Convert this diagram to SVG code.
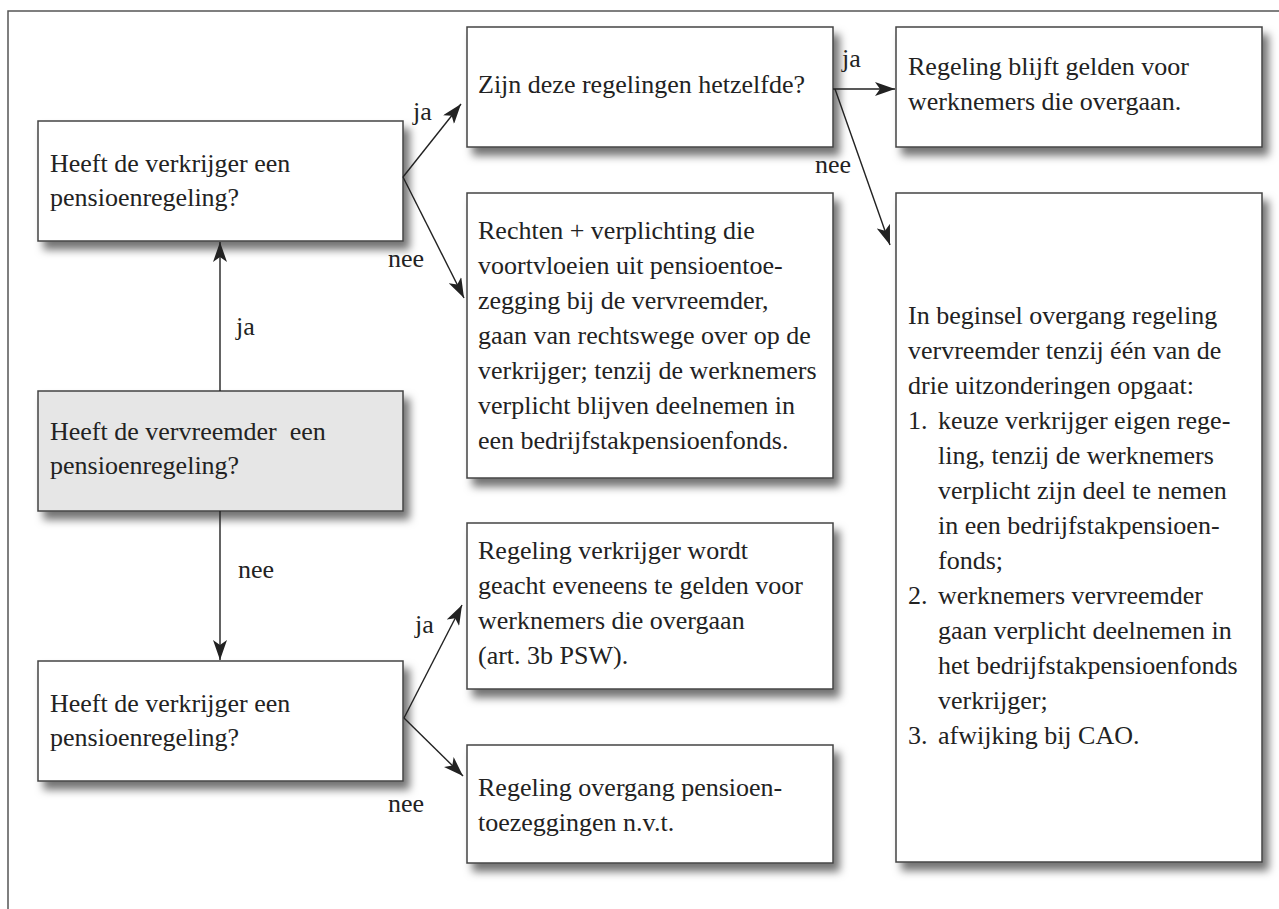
<svg xmlns="http://www.w3.org/2000/svg" width="1279" height="909" viewBox="0 0 1279 909" font-family="Liberation Serif, Times New Roman, serif" font-size="26">
<style>
text{fill:#222}
.box{fill:#fff;stroke:#444;stroke-width:1.5}
.grey{fill:#e6e6e6}
.conn line{stroke:#222;stroke-width:1.4;marker-end:url(#ah)}
</style>
<defs>
<filter id="sh" x="-10%" y="-10%" width="130%" height="140%">
<feDropShadow dx="6" dy="8" stdDeviation="4" flood-color="#000" flood-opacity="0.55"/>
</filter>
<marker id="ah" markerUnits="userSpaceOnUse" markerWidth="22" markerHeight="14" refX="20" refY="7" orient="auto">
<path d="M0,0 L20,7 L0,14 L5,7 Z" fill="#222"/>
</marker>
</defs>
<rect width="1279" height="909" fill="#fff"/>
<path d="M8,909 V11 H1279" fill="none" stroke="#555" stroke-width="1.5"/>

<g id="nodeA">
<rect class="box" x="38" y="121" width="365" height="120" filter="url(#sh)"/>
<text x="50" y="172">Heeft de verkrijger een</text>
<text x="50" y="206">pensioenregeling?</text>
</g>
<g id="nodeB">
<rect class="box grey" x="38" y="391" width="365" height="120" filter="url(#sh)"/>
<text x="50" y="440" xml:space="preserve">Heeft de vervreemder  een</text>
<text x="50" y="474">pensioenregeling?</text>
</g>
<g id="nodeC">
<rect class="box" x="38" y="661" width="365" height="120" filter="url(#sh)"/>
<text x="50" y="712">Heeft de verkrijger een</text>
<text x="50" y="746">pensioenregeling?</text>
</g>
<g id="nodeD">
<rect class="box" x="467" y="27" width="366" height="120" filter="url(#sh)"/>
<text x="478" y="93">Zijn deze regelingen hetzelfde?</text>
</g>
<g id="nodeE">
<rect class="box" x="467" y="193" width="366" height="285" filter="url(#sh)"/>
<text x="478" y="239">Rechten + verplichting die</text>
<text x="478" y="274">voortvloeien uit pensioentoe-</text>
<text x="478" y="309">zegging bij de vervreemder,</text>
<text x="478" y="344">gaan van rechtswege over op de</text>
<text x="478" y="379">verkrijger; tenzij de werknemers</text>
<text x="478" y="414">verplicht blijven deelnemen in</text>
<text x="478" y="449">een bedrijfstakpensioenfonds.</text>
</g>
<g id="nodeF">
<rect class="box" x="896" y="27" width="366" height="120" filter="url(#sh)"/>
<text x="908" y="75">Regeling blijft gelden voor</text>
<text x="908" y="110">werknemers die overgaan.</text>
</g>
<g id="nodeG">
<rect class="box" x="896" y="193" width="366" height="669" filter="url(#sh)"/>
<text x="908" y="324">In beginsel overgang regeling</text>
<text x="908" y="359">vervreemder tenzij één van de</text>
<text x="908" y="394">drie uitzonderingen opgaat:</text>
<text x="908" y="429">1.</text><text x="938" y="429">keuze verkrijger eigen rege-</text>
<text x="938" y="464">ling, tenzij de werknemers</text>
<text x="938" y="499">verplicht zijn deel te nemen</text>
<text x="938" y="534">in een bedrijfstakpensioen-</text>
<text x="938" y="569">fonds;</text>
<text x="908" y="604">2.</text><text x="938" y="604">werknemers vervreemder</text>
<text x="938" y="639">gaan verplicht deelnemen in</text>
<text x="938" y="674">het bedrijfstakpensioenfonds</text>
<text x="938" y="709">verkrijger;</text>
<text x="908" y="744">3.</text><text x="938" y="744">afwijking bij CAO.</text>
</g>
<g id="nodeH">
<rect class="box" x="467" y="523" width="366" height="166" filter="url(#sh)"/>
<text x="478" y="559">Regeling verkrijger wordt</text>
<text x="478" y="594">geacht eveneens te gelden voor</text>
<text x="478" y="629">werknemers die overgaan</text>
<text x="478" y="664">(art. 3b PSW).</text>
</g>
<g id="nodeI">
<rect class="box" x="467" y="745" width="366" height="118" filter="url(#sh)"/>
<text x="478" y="796">Regeling overgang pensioen-</text>
<text x="478" y="831">toezeggingen n.v.t.</text>
</g>

<g id="connectors" class="conn">
<line x1="220" y1="391" x2="220" y2="242"/>
<line x1="220" y1="511" x2="220" y2="660"/>
<line x1="403" y1="177" x2="461" y2="104"/>
<line x1="403" y1="177" x2="464" y2="298"/>
<line x1="833" y1="89" x2="895" y2="89"/>
<line x1="835" y1="89" x2="890" y2="245"/>
<line x1="404" y1="718" x2="462" y2="605"/>
<line x1="404" y1="718" x2="463" y2="776"/>
</g>
<g id="labels">
<text x="236" y="335">ja</text>
<text x="238" y="578">nee</text>
<text x="413" y="120">ja</text>
<text x="388" y="267">nee</text>
<text x="842" y="67">ja</text>
<text x="815" y="173">nee</text>
<text x="415" y="633">ja</text>
<text x="388" y="812">nee</text>
</g>
</svg>
